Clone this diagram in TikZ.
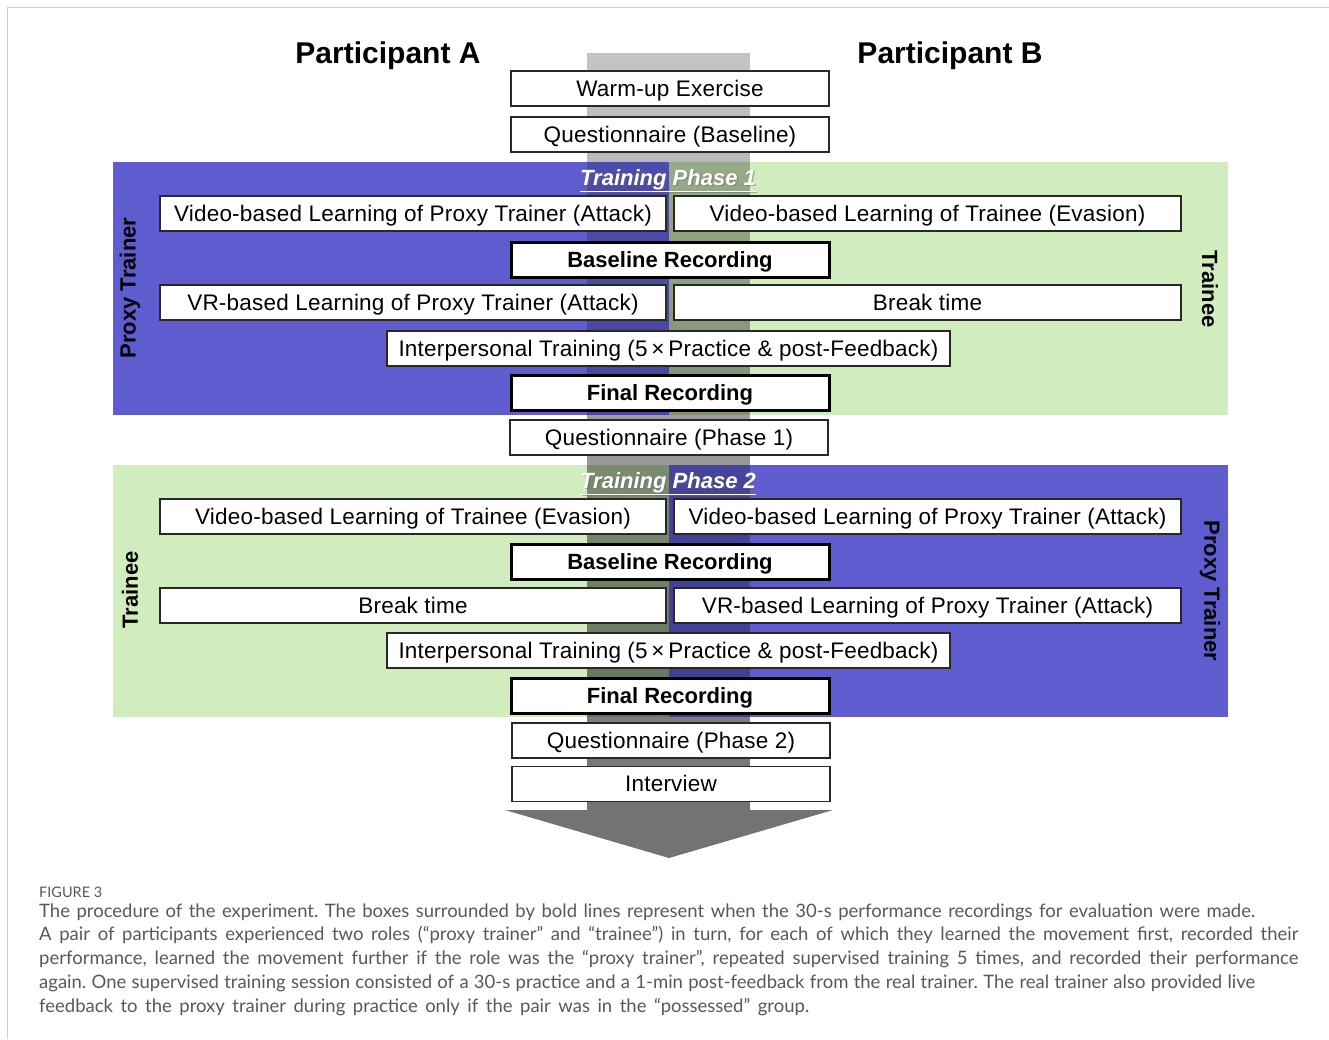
\documentclass[tikz,border=0pt]{standalone}
\usepackage{fontspec}
\setmainfont{Liberation Sans}
\newfontfamily\boxfont{Liberation Sans}[LetterSpace=1.0]
\newfontfamily\capfont{Lato}
\usetikzlibrary{fadings}
\definecolor{pblue}{RGB}{94,92,206}
\definecolor{pgreen}{RGB}{209,236,189}
\definecolor{capgray}{RGB}{88,88,88}
\definecolor{framegray}{RGB}{205,205,205}
\definecolor{headgray}{RGB}{115,115,115}
\definecolor{boxline}{RGB}{40,40,40}
\tikzfading[name=barfade, top color=transparent!77, bottom color=transparent!45]
\tikzset{
  stepbox/.style={draw=boxline, line width=1.3pt, fill=white, inner sep=0pt,
    minimum height=35pt, text height=16pt, text depth=1pt, font=\boxfont\fontsize{22.5}{26}\selectfont},
  recbox/.style={stepbox, draw=black, line width=3pt, font=\bfseries\fontsize{22}{26}\selectfont},
  titletext/.style={anchor=base, font=\bfseries\itshape\fontsize{22}{26}\selectfont, text=white, inner sep=0pt},
  rolelabel/.style={font=\bfseries\fontsize{22}{26}\selectfont, inner sep=0pt},
  partlabel/.style={anchor=base, font=\bfseries\fontsize{30}{34}\selectfont, inner sep=0pt},
  capline/.style={anchor=west, inner sep=0pt, text=capgray, font=\capfont\fontsize{18.5}{22}\selectfont}
}
\begin{document}
\frenchspacing
\begin{tikzpicture}[x=1pt,y=-1pt]
\useasboundingbox (0,0) rectangle (1329,1039);
% frame
\draw[framegray, line width=1.2pt] (7.5,1039) -- (7.5,7.5) -- (1329,7.5);
% panels
\fill[pblue]  (113,162) rectangle (669,415);
\fill[pgreen] (669,162) rectangle (1228,415);
\fill[pgreen] (113,465) rectangle (669,717);
\fill[pblue]  (669,465) rectangle (1228,717);
% central flow bar and arrow head
\fill[black, path fading=barfade] (587,52) rectangle (750,810);
\fill[pblue, opacity=.4] (587,162) rectangle (669,415);
\fill[pblue, opacity=.4] (669,465) rectangle (750,717);
\fill[headgray] (505,810) -- (833,810) -- (669,858) -- cycle;
% headings
\node[partlabel] (pA) at (388,63) {Participant A};
\node[partlabel] (pB) at (950,63) {Participant B};
% top boxes
\node[stepbox, minimum width=318pt] (warmup) at (670,88.5) {Warm-up Exercise};
\node[stepbox, minimum width=318pt] (qbase) at (670,134.5) {Questionnaire (Baseline)};
% phase 1
\node[titletext, text=black!60, opacity=.45] (t1s) at (669.5,186.5) {\underline{Training Phase 1}};
\node[titletext] (t1) at (668,185) {\underline{Training Phase 1}};
\node[stepbox, minimum width=506pt] (vlA1) at (413,213.5) {Video-based Learning of Proxy Trainer (Attack)};
\node[stepbox, minimum width=507pt] (vlB1) at (927.5,213.5) {Video-based Learning of Trainee (Evasion)};
\node[recbox, minimum width=318pt] (base1) at (670,259.5) {Baseline Recording};
\node[stepbox, minimum width=506pt] (vrA1) at (413,302.5) {VR-based Learning of Proxy Trainer (Attack)};
\node[stepbox, minimum width=507pt] (brk1) at (927.5,302.5) {Break time};
\node[stepbox, minimum width=563pt] (ipt1) at (668.5,348.5) {Interpersonal Training (5\,×\,Practice \& post-Feedback)};
\node[recbox, minimum width=318pt] (final1) at (670,393) {Final Recording};
\node[stepbox, minimum width=318pt] (qp1) at (669,437.5) {Questionnaire (Phase 1)};
\node[rolelabel, rotate=90] (rA1) at (130,288) {Proxy Trainer};
\node[rolelabel, rotate=-90] (rB1) at (1210,289) {Trainee};
% phase 2
\node[titletext, text=black!60, opacity=.45] (t2s) at (669.5,489.5) {\underline{Training Phase 2}};
\node[titletext] (t2) at (668,488) {\underline{Training Phase 2}};
\node[stepbox, minimum width=506pt] (vlA2) at (413,516.5) {Video-based Learning of Trainee (Evasion)};
\node[stepbox, minimum width=507pt] (vlB2) at (927.5,516.5) {Video-based Learning of Proxy Trainer (Attack)};
\node[recbox, minimum width=318pt] (base2) at (670,562) {Baseline Recording};
\node[stepbox, minimum width=506pt] (brk2) at (413,605.5) {Break time};
\node[stepbox, minimum width=507pt] (vrB2) at (927.5,605.5) {VR-based Learning of Proxy Trainer (Attack)};
\node[stepbox, minimum width=563pt] (ipt2) at (668.5,650.5) {Interpersonal Training (5\,×\,Practice \& post-Feedback)};
\node[recbox, minimum width=318pt] (final2) at (670,696) {Final Recording};
\node[stepbox, minimum width=318pt] (qp2) at (671,740.5) {Questionnaire (Phase 2)};
\node[stepbox, minimum width=318pt] (interview) at (671,784) {Interview};
\node[rolelabel, rotate=90] (rA2) at (130,590) {Trainee};
\node[rolelabel, rotate=-90] (rB2) at (1210,591) {Proxy Trainer};
% caption
\node[capline, font=\capfont\fontsize{14.5}{16}\selectfont] (fig) at (39,892) {FIGURE 3};
\node[capline] (c1) at (39,912) {\makebox[1216pt][s]{The procedure of the experiment. The boxes surrounded by bold lines represent when the 30-s performance recordings for evaluation were made.}};
\node[capline] (c2) at (39,935) {\makebox[1259pt][s]{A pair of participants experienced two roles (“proxy trainer” and “trainee”) in turn, for each of which they learned the movement first, recorded their}};
\node[capline] (c3) at (39,959) {\makebox[1259pt][s]{performance, learned the movement further if the role was the “proxy trainer”, repeated supervised training 5 times, and recorded their performance}};
\node[capline] (c4) at (39,983) {\makebox[1216pt][s]{again. One supervised training session consisted of a 30-s practice and a 1-min post-feedback from the real trainer. The real trainer also provided live}};
\node[capline] (c5) at (39,1007) {\makebox[770pt][s]{feedback to the proxy trainer during practice only if the pair was in the “possessed” group.}};
\end{tikzpicture}
\end{document}
